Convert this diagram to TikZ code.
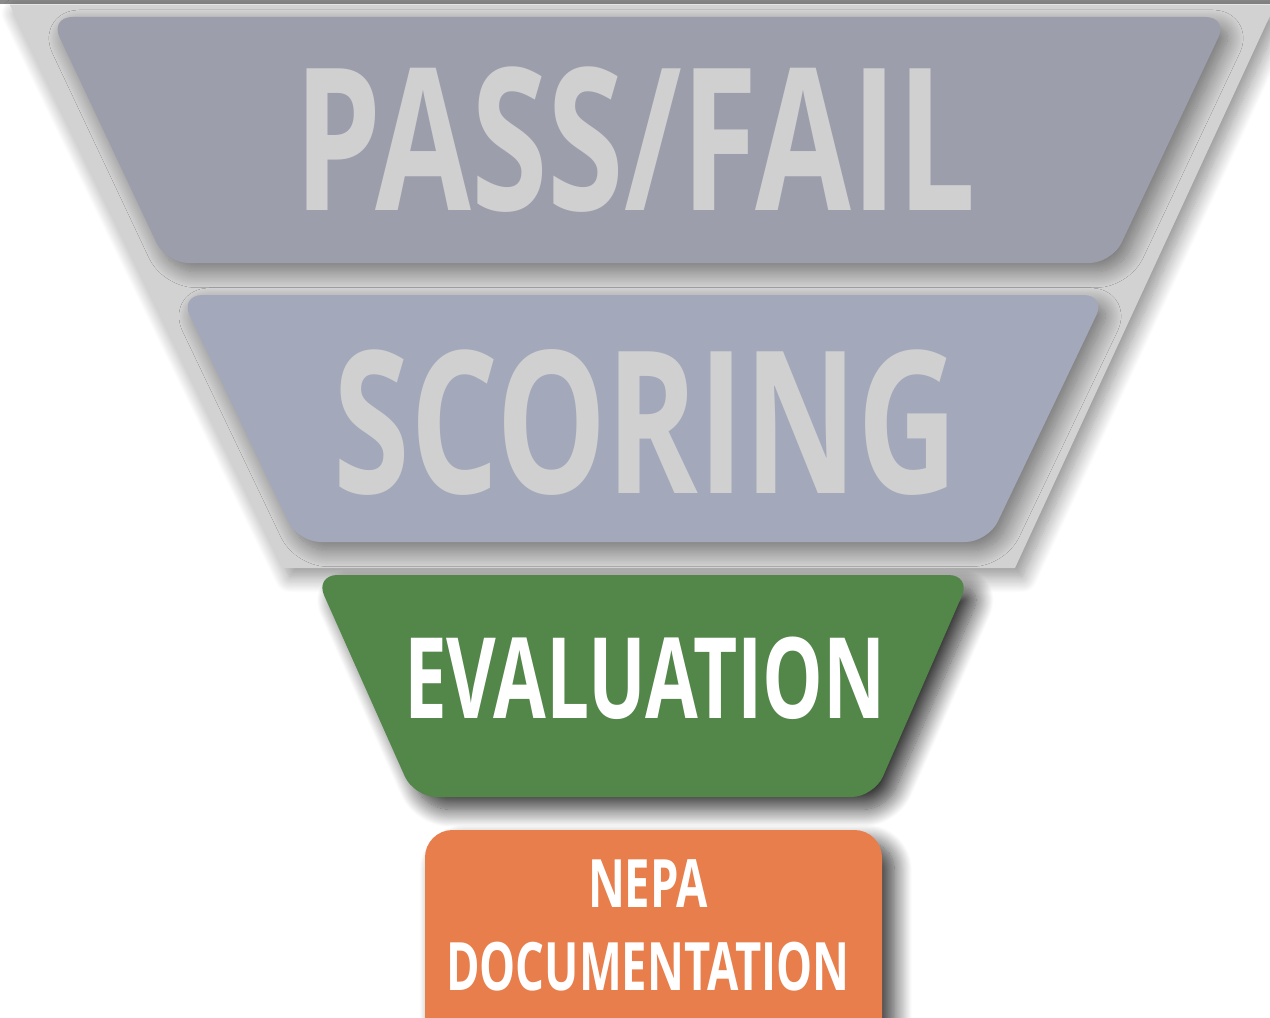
\documentclass[tikz,border=0pt]{standalone}
\usepackage{fontspec}
\newfontfamily\funnelfont[FakeStretch=0.70]{Open Sans}
\newfontfamily\stagefont[FakeStretch=0.68]{Open Sans}
\usetikzlibrary{shadows.blur}

\definecolor{topline}{HTML}{8A8A8A}
\definecolor{funnelgray}{HTML}{D2D2D2}
\definecolor{passfill}{HTML}{9C9EAB}
\definecolor{scorefill}{HTML}{A3A9BA}
\definecolor{evalfill}{HTML}{538649}
\definecolor{nepafill}{HTML}{E77E4C}
\definecolor{lettergray}{HTML}{D0D0D0}

\begin{document}
\begin{tikzpicture}[x=0.02cm,y=-0.02cm,
	soft shadow/.style = {blur shadow={shadow xshift=4pt, shadow yshift=-5pt, shadow blur radius=9pt, shadow blur steps=20, shadow opacity=45}},
	dark shadow/.style = {blur shadow={shadow xshift=7pt, shadow yshift=-7pt, shadow blur radius=10pt, shadow blur steps=20, shadow opacity=80}},
	stage/.style = {rounded corners=0.45cm},
	big label/.style = {anchor=base, inner sep=0pt, text=lettergray, font=\funnelfont\bfseries\fontsize{113}{113}\selectfont},
	mid label/.style = {anchor=base, inner sep=0pt, text=white, font=\stagefont\bfseries\fontsize{64}{64}\selectfont},
	small label/.style = {anchor=base, inner sep=0pt, text=white, font=\stagefont\bfseries\fontsize{38}{38}\selectfont}]
	
	\useasboundingbox (0,0) rectangle (1270,1017);
	
	% funnel behind the upper stages
	\fill[topline] (0,0) rectangle (1270,4);
	\path[fill=funnelgray, soft shadow] (10,5) -- (1275,5) -- (1015,568) -- (283,568) -- cycle;
	
	% stages
	\path[stage, fill=passfill, soft shadow] (50,17) -- (1228,17) -- (1112,263) -- (166,263) -- cycle;
	\path[stage, fill=scorefill, soft shadow] (180,295) -- (1106,295) -- (988,542) -- (298,542) -- cycle;
	\path[stage, fill=evalfill, dark shadow] (315,575) -- (971,575) -- (874,797) -- (414,797) -- cycle;
	\path[fill=nepafill, rounded corners=0.55cm, dark shadow] (425,830) rectangle (882,1045);
	
	% labels
	\node[big label] (passfail) at (635,210) {PASS/FAIL};
	\node[big label] (scoring) at (646,493) {SCORING};
	\node[mid label] (evaluation) at (645,718) {EVALUATION};
	\node[small label] (nepa) at (648,907) {NEPA};
	\node[small label] (docu) at (648,990) {DOCUMENTATION};
	
\end{tikzpicture}
\end{document}
